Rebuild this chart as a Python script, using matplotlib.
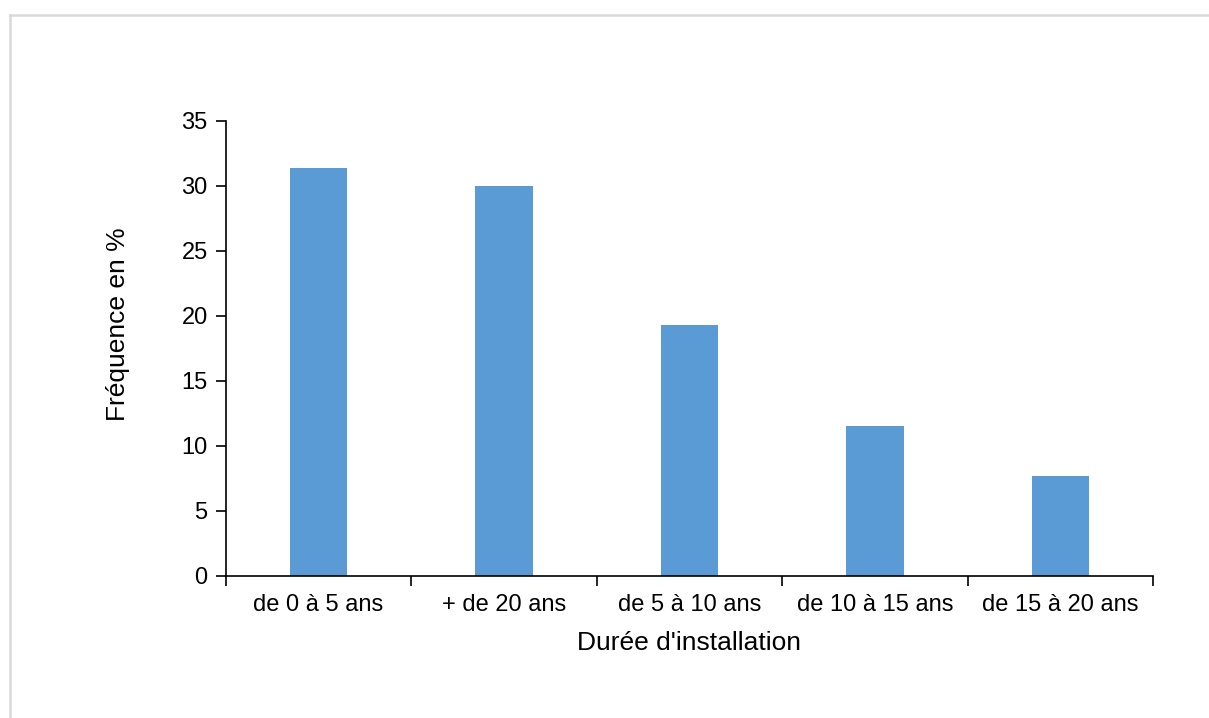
import matplotlib.pyplot as plt
import numpy as np
from matplotlib.lines import Line2D

plt.rcParams['font.family'] = ['Liberation Sans', 'DejaVu Sans']

categories = ["de 0 à 5 ans", "+ de 20 ans", "de 5 à 10 ans", "de 10 à 15 ans", "de 15 à 20 ans"]
frequences = [31.4, 30.0, 19.3, 11.55, 7.7]

fig = plt.figure(figsize=(12.09, 7.18), dpi=100)
ax = fig.add_axes([0.1867, 0.1978, 0.767, 0.6341])

x = np.arange(len(categories))
ax.bar(x, frequences, width=0.31, color="#5B9BD5")

ax.set_xlim(-0.5, len(categories) - 0.5)
ax.set_ylim(0, 35)
ax.set_yticks(range(0, 36, 5))
ax.set_xticks(x)
ax.set_xticklabels(categories)
ax.set_xticks(np.arange(-0.5, len(categories), 1), minor=True)
ax.tick_params(axis="x", which="major", length=0, labelsize=17, pad=13)
ax.tick_params(axis="x", which="minor", length=7, width=1.2, direction="out")
ax.tick_params(axis="y", length=7, width=1.2, direction="out", labelsize=17, pad=6)

for s in ["top", "right"]:
    ax.spines[s].set_visible(False)
for s in ["left", "bottom"]:
    ax.spines[s].set_linewidth(1.2)

ax.set_xlabel("Durée d'installation", fontsize=19, labelpad=10.5)
ax.set_ylabel("Fréquence en %", fontsize=19, labelpad=37)
ax.yaxis.label.set_y(0.552)

# cadre gris autour du graphique
fig.add_artist(Line2D([10 / 1209, 1], [1 - 15 / 718, 1 - 15 / 718], color="#D9D9D9", lw=1.8, transform=fig.transFigure))
fig.add_artist(Line2D([10 / 1209, 10 / 1209], [0, 1 - 15 / 718], color="#D9D9D9", lw=1.8, transform=fig.transFigure))

fig.savefig("out.png", dpi=100)
